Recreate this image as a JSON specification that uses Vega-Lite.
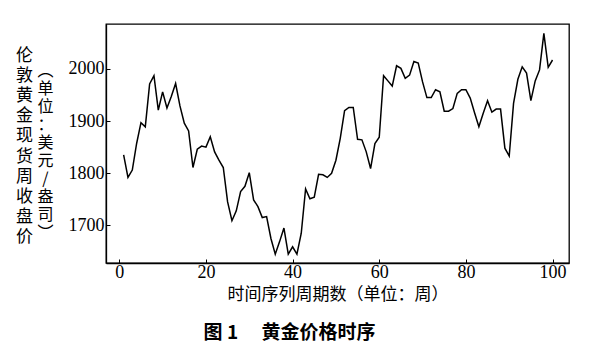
{
  "$schema": "https://vega.github.io/schema/vega-lite/v6.json",
  "width": 463,
  "height": 239,
  "autosize": "none",
  "padding": {"left": 106, "top": 24, "right": 30, "bottom": 84},
  "background": "white",
  "config": {
    "view": {"stroke": "black", "strokeWidth": 1.3},
    "axis": {"grid": false, "domainColor": "black", "domainWidth": 1.3, "tickColor": "black", "labelColor": "black", "titleColor": "black"}
  },
  "title": {
    "text": "图 1　 黄金价格时序",
    "orient": "bottom",
    "font": "Noto Sans CJK SC",
    "fontSize": 19,
    "fontWeight": "bold",
    "color": "black",
    "offset": 22,
    "anchor": "middle",
    "dx": -48
  },
  "data": {"values": [
    {"week":1,"price":1835},{"week":2,"price":1792},{"week":3,"price":1806},{"week":4,"price":1857},{"week":5,"price":1897},
    {"week":6,"price":1889},{"week":7,"price":1971},{"week":8,"price":1987},{"week":9,"price":1921},{"week":10,"price":1956},
    {"week":11,"price":1925},{"week":12,"price":1947},{"week":13,"price":1972},{"week":14,"price":1929},{"week":15,"price":1896},
    {"week":16,"price":1881},{"week":17,"price":1811},{"week":18,"price":1846},{"week":19,"price":1852},{"week":20,"price":1850},
    {"week":21,"price":1870},{"week":22,"price":1841},{"week":23,"price":1825},{"week":24,"price":1811},{"week":25,"price":1745},
    {"week":26,"price":1709},{"week":27,"price":1728},{"week":28,"price":1765},{"week":29,"price":1775},{"week":30,"price":1801},
    {"week":31,"price":1749},{"week":32,"price":1736},{"week":33,"price":1715},{"week":34,"price":1717},{"week":35,"price":1675},
    {"week":36,"price":1645},{"week":37,"price":1669},{"week":38,"price":1695},{"week":39,"price":1645},{"week":40,"price":1659},
    {"week":41,"price":1645},{"week":42,"price":1685},{"week":43,"price":1770},{"week":44,"price":1751},{"week":45,"price":1754},
    {"week":46,"price":1798},{"week":47,"price":1797},{"week":48,"price":1792},{"week":49,"price":1800},{"week":50,"price":1825},
    {"week":51,"price":1867},{"week":52,"price":1920},{"week":53,"price":1926},{"week":54,"price":1926},{"week":55,"price":1865},
    {"week":56,"price":1864},{"week":57,"price":1841},{"week":58,"price":1809},{"week":59,"price":1857},{"week":60,"price":1869},
    {"week":61,"price":1987},{"week":62,"price":1977},{"week":63,"price":1967},{"week":64,"price":2006},{"week":65,"price":2001},
    {"week":66,"price":1982},{"week":67,"price":1988},{"week":68,"price":2014},{"week":69,"price":2011},{"week":70,"price":1975},
    {"week":71,"price":1945},{"week":72,"price":1945},{"week":73,"price":1960},{"week":74,"price":1956},{"week":75,"price":1919},
    {"week":76,"price":1919},{"week":77,"price":1924},{"week":78,"price":1953},{"week":79,"price":1960},{"week":80,"price":1960},
    {"week":81,"price":1944},{"week":82,"price":1916},{"week":83,"price":1889},{"week":84,"price":1915},{"week":85,"price":1939},
    {"week":86,"price":1917},{"week":87,"price":1923},{"week":88,"price":1923},{"week":89,"price":1848},{"week":90,"price":1833},
    {"week":91,"price":1934},{"week":92,"price":1980},{"week":93,"price":2004},{"week":94,"price":1992},{"week":95,"price":1939},
    {"week":96,"price":1977},{"week":97,"price":1998},{"week":98,"price":2068},{"week":99,"price":2003},{"week":100,"price":2017}
  ]},
  "resolve": {"axis": {"y": "independent"}},
  "encoding": {
    "x": {
      "field": "week", "type": "quantitative",
      "scale": {"domain": [-3.07, 103.8], "nice": false, "zero": false},
      "axis": {
        "values": [0, 20, 40, 60, 80, 100],
        "format": "d",
        "tickSize": -4, "labelPadding": 4,
        "labelFont": "Liberation Serif", "labelFontSize": 18,
        "title": "时间序列周期数（单位：周）",
        "titleFont": "Noto Sans CJK SC", "titleFontSize": 17, "titleFontWeight": "normal",
        "titlePadding": 5
      }
    }
  },
  "layer": [
    {
      "mark": {"type": "line", "color": "black", "strokeWidth": 1.5},
      "encoding": {
        "y": {
          "field": "price", "type": "quantitative",
          "scale": {"domain": [1628, 2086], "nice": false, "zero": false},
          "axis": {
            "orient": "left",
            "values": [1700, 1800, 1900, 2000],
            "format": "d",
            "tickSize": -4, "labelPadding": 6,
            "labelFont": "Liberation Serif", "labelFontSize": 18,
            "title": ["伦","敦","黄","金","现","货","周","收","盘","价"],
            "titleAngle": 0, "titleAlign": "center", "titleBaseline": "middle",
            "titleX": -82, "titleY": 31,
            "titleFont": "Noto Sans CJK SC", "titleFontSize": 17, "titleFontWeight": "normal",
            "titleLineHeight": 20.2
          }
        }
      }
    },
    {
      "mark": {"type": "line", "color": "black", "strokeOpacity": 0},
      "encoding": {
        "y": {
          "field": "price", "type": "quantitative",
          "scale": {"domain": [1628, 2086], "nice": false, "zero": false},
          "axis": {
            "orient": "left",
            "labels": false, "ticks": false, "domain": false,
            "title": ["︵","单","位","：","美","元","/","盎","司","︶"],
            "titleAngle": 0, "titleAlign": "center", "titleBaseline": "middle",
            "titleX": -61, "titleY": 46,
            "titleFont": "Noto Sans CJK SC", "titleFontSize": 16, "titleFontWeight": "normal",
            "titleLineHeight": 18
          }
        }
      }
    }
  ]
}
